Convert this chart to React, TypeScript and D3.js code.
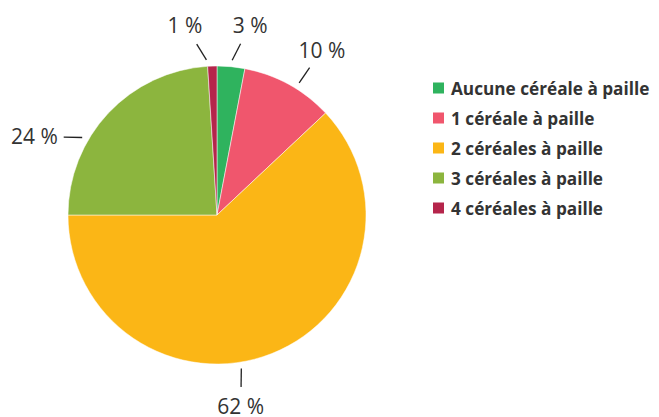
import { useEffect, useRef } from "react";
import * as d3 from "d3";

// Répartition des exploitations selon le nombre de céréales à paille
const categories = [
  "Aucune céréale à paille",
  "1 céréale à paille",
  "2 céréales à paille",
  "3 céréales à paille",
  "4 céréales à paille",
];
const shares = [3, 10, 62, 24, 1];
const labels = ["3 %", "10 %", "62 %", "24 %", "1 %"];
const colors = ["#2fb35e", "#f0566d", "#fbb616", "#8cb53e", "#b5254b"];

const App = () => {
  const svgRef = useRef<SVGSVGElement>(null);

  useEffect(() => {
    document.body.style.margin = "0";

    const width = 659;
    const height = 417;
    const cx = 217;
    const cy = 215;
    const r = 149;

    d3.select(svgRef.current).selectAll("*").remove();

    const svg = d3
      .select(svgRef.current)
      .attr("width", width)
      .attr("height", height)
      .style("display", "block")
      .style("font-family", "'Open Sans', sans-serif");

    const g = svg.append("g").attr("transform", `translate(${cx},${cy})`);

    const pie = d3
      .pie<number>()
      .sort(null)
      .value((d) => d);
    const arcs = pie(shares);

    const arc = d3.arc<d3.PieArcDatum<number>>().innerRadius(0).outerRadius(r);

    // Slices
    g.selectAll("path.slice")
      .data(arcs)
      .enter()
      .append("path")
      .attr("class", "slice")
      .attr("d", arc)
      .attr("fill", (_, i) => colors[i])
      .attr("stroke", "#fff")
      .attr("stroke-width", 0.5);

    // label placement tweaks (degrees), like the original layout
    const anchorShift = [0.2, 3.1, 12.6, -13.3, -2.1];
    const labelShift = [4.3, 0.5, 1.9, -6.6, -5.7];

    const polar = (rad: number, deg: number): [number, number] => {
      const a = (deg * Math.PI) / 180;
      return [Math.sin(a) * rad, -Math.cos(a) * rad];
    };

    arcs.forEach((d, i) => {
      const mid = (((d.startAngle + d.endAngle) / 2) * 180) / Math.PI;
      const anchor = mid + anchorShift[i];
      const labelAngle = anchor + labelShift[i];
      // wider gap where the label sits beside the pie
      const gap = 42.5 + 8 * Math.abs(Math.sin((labelAngle * Math.PI) / 180));
      const labelPos = polar(r + gap, labelAngle);
      const start = polar(r + 6.5, anchor);
      const dx = labelPos[0] - start[0];
      const dy = labelPos[1] - start[1];
      const len = Math.sqrt(dx * dx + dy * dy);
      const tick = 18.5;

      g.append("line")
        .attr("x1", start[0])
        .attr("y1", start[1])
        .attr("x2", start[0] + (dx / len) * tick)
        .attr("y2", start[1] + (dy / len) * tick)
        .attr("stroke", "#222")
        .attr("stroke-width", 1.3);

      g.append("text")
        .attr("x", labelPos[0])
        .attr("y", labelPos[1])
        .attr("text-anchor", "middle")
        .attr("dominant-baseline", "central")
        .attr("font-size", 21)
        .attr("fill", "#333")
        .text(labels[i]);
    });

    // Legend
    const legendY = d3
      .scaleBand()
      .domain(categories)
      .range([73, 223]);

    const legend = svg
      .append("g")
      .selectAll("g")
      .data(categories)
      .enter()
      .append("g")
      .attr(
        "transform",
        (d) => `translate(433, ${(legendY(d) ?? 0) + legendY.bandwidth() / 2})`
      );

    legend
      .append("rect")
      .attr("x", 0)
      .attr("y", -5.5)
      .attr("width", 11)
      .attr("height", 11)
      .attr("fill", (_, i) => colors[i]);

    legend
      .append("text")
      .attr("x", 18)
      .attr("y", 0)
      .attr("dominant-baseline", "central")
      .attr("font-size", 17.2)
      .attr("font-weight", 700)
      .attr("fill", "#333")
      .text((d) => d);
  }, []);

  return <svg ref={svgRef}></svg>;
};

export default App;
